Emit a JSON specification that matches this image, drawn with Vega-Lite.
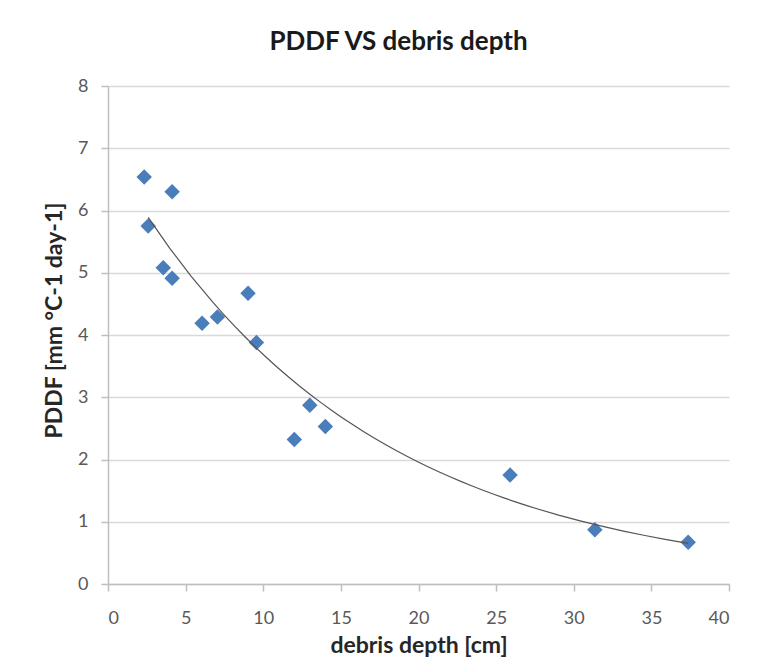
{
  "$schema": "https://vega.github.io/schema/vega-lite/v6.json",
  "width": 621,
  "height": 498,
  "autosize": {"type": "none"},
  "padding": {"left": 108, "top": 86, "right": 38, "bottom": 86},
  "background": "white",
  "title": {
    "text": "PDDF VS debris depth",
    "font": "Lato",
    "fontSize": 26,
    "fontWeight": "bold",
    "color": "#1a1a1a",
    "anchor": "middle",
    "dx": -20,
    "offset": 22
  },
  "data": {
    "values": [
      {"depth": 2.33, "pddf": 6.54},
      {"depth": 4.13, "pddf": 6.30},
      {"depth": 2.59, "pddf": 5.75},
      {"depth": 3.56, "pddf": 5.08},
      {"depth": 4.13, "pddf": 4.91},
      {"depth": 6.06, "pddf": 4.19},
      {"depth": 7.05, "pddf": 4.29},
      {"depth": 9.02, "pddf": 4.67},
      {"depth": 9.56, "pddf": 3.88},
      {"depth": 12.0, "pddf": 2.32},
      {"depth": 13.0, "pddf": 2.87},
      {"depth": 14.0, "pddf": 2.53},
      {"depth": 25.9, "pddf": 1.75},
      {"depth": 31.36, "pddf": 0.87},
      {"depth": 37.37, "pddf": 0.67}
    ]
  },
  "layer": [
    {
      "mark": {"type": "point", "shape": "diamond", "filled": true, "size": 240, "color": "#4a7ebb", "opacity": 1},
      "encoding": {
        "x": {"field": "depth", "type": "quantitative"},
        "y": {"field": "pddf", "type": "quantitative"}
      }
    },
    {
      "transform": [
        {"regression": "pddf", "on": "depth", "method": "exp", "extent": [2.59, 37.37]}
      ],
      "mark": {"type": "line", "color": "#555555", "strokeWidth": 1.2},
      "encoding": {
        "x": {"field": "depth", "type": "quantitative"},
        "y": {"field": "pddf", "type": "quantitative"}
      }
    }
  ],
  "encoding": {
    "x": {
      "field": "depth",
      "type": "quantitative",
      "scale": {"domain": [0, 40], "nice": false, "zero": true},
      "axis": {
        "title": "debris depth [cm]",
        "values": [0, 5, 10, 15, 20, 25, 30, 35, 40],
        "grid": false,
        "domainColor": "#bfbfbf",
        "tickColor": "#bfbfbf",
        "tickSize": 7,
        "labelPadding": 18,
        "labelFont": "Lato",
        "labelFontSize": 18,
        "labelColor": "#595959",
        "titleFont": "Lato",
        "titleFontSize": 23,
        "titleFontWeight": "bold",
        "titleColor": "#262626",
        "titlePadding": 7
      }
    },
    "y": {
      "field": "pddf",
      "type": "quantitative",
      "scale": {"domain": [0, 8], "nice": false},
      "axis": {
        "title": "PDDF [mm °C-1 day-1]",
        "values": [0, 1, 2, 3, 4, 5, 6, 7, 8],
        "grid": true,
        "gridColor": "#d9d9d9",
        "gridWidth": 1.5,
        "domainColor": "#bfbfbf",
        "tickColor": "#bfbfbf",
        "tickSize": 7,
        "labelPadding": 13,
        "labelFont": "Lato",
        "labelFontSize": 18,
        "labelColor": "#595959",
        "titleFont": "Lato",
        "titleFontSize": 23,
        "titleFontWeight": "bold",
        "titleColor": "#262626",
        "titlePadding": 11,
        "titleY": 234
      }
    }
  },
  "config": {
    "view": {"stroke": null},
    "axis": {"domainWidth": 1.5, "tickWidth": 1.5}
  }
}
